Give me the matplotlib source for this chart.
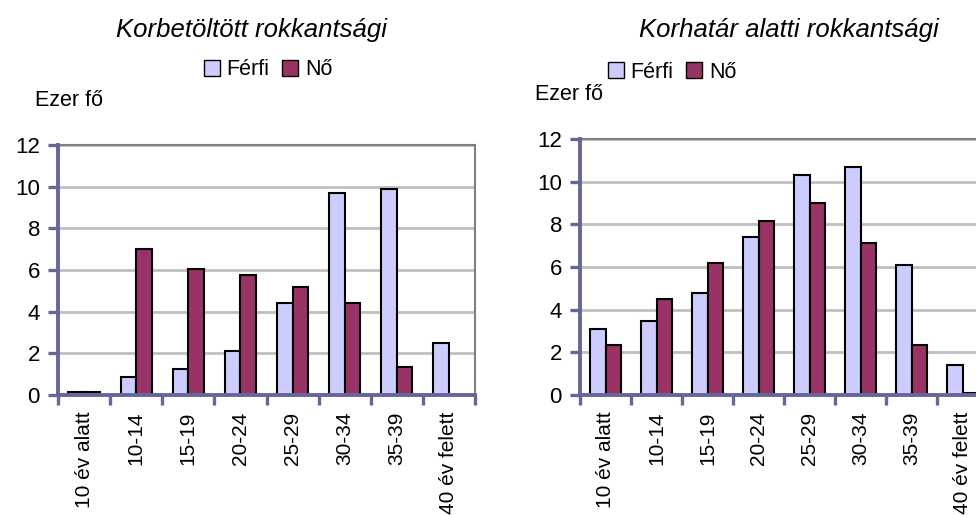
import matplotlib
matplotlib.use("Agg")
import matplotlib.pyplot as plt
import numpy as np
from matplotlib.patches import Patch

plt.rcParams['font.family'] = ['Liberation Sans', 'DejaVu Sans']

categories = ["10 év alatt", "10-14", "15-19", "20-24", "25-29", "30-34", "35-39", "40 év felett"]
series_names = ["Férfi", "Nő"]

left_title = "Korbetöltött rokkantsági"
left_ferfi = [0.15, 0.85, 1.25, 2.1, 4.4, 9.7, 9.87, 2.5]
left_no = [0.15, 7.0, 6.05, 5.76, 5.17, 4.4, 1.34, 0.0]

right_title = "Korhatár alatti rokkantsági"
right_ferfi = [3.08, 3.47, 4.78, 7.4, 10.3, 10.67, 6.09, 1.39]
right_no = [2.33, 4.48, 6.17, 8.16, 8.98, 7.11, 2.33, 0.08]

yticks = [0, 2, 4, 6, 8, 10, 12]
ylabel = "Ezer fő"

C_F = "#CCCCFF"
C_N = "#993366"
AXC = "#666699"

W, H = 976, 515
fig = plt.figure(figsize=(W / 100, H / 100), dpi=100)


def px_axes(x0, x1, ytop, ybot):
    return fig.add_axes([x0 / W, 1 - ybot / H, (x1 - x0) / W, (ybot - ytop) / H])


def draw(ax, f, n):
    x = np.arange(len(categories))
    bw = 0.3
    ax.bar(x - bw / 2, f, bw, color=C_F, edgecolor="black", linewidth=1.5, zorder=3)
    ax.bar(x + bw / 2, n, bw, color=C_N, edgecolor="black", linewidth=1.5, zorder=3)
    ax.set_xlim(-0.5, len(categories) - 0.5)
    ax.set_ylim(0, 12)
    ax.set_yticks(yticks)
    ax.set_yticklabels([str(v) for v in yticks], fontsize=16)
    ax.yaxis.grid(True, color="#C0C0C0", linewidth=2, zorder=0)
    ax.set_axisbelow(True)
    ax.set_xticks(np.arange(len(categories) + 1) - 0.5, minor=False)
    ax.set_xticklabels([])
    ax.set_xticks(x, minor=True)
    ax.set_xticklabels(categories, minor=True, rotation=90, fontsize=15, va="top", ha="center")
    ax.tick_params(axis="x", which="major", direction="out", length=7, width=2.4, color=AXC)
    ax.tick_params(axis="x", which="minor", length=0, pad=12)
    ax.tick_params(axis="y", direction="out", length=7, width=2.4, color=AXC, pad=6)
    for s in ("left", "bottom"):
        ax.spines[s].set_color(AXC)
        ax.spines[s].set_linewidth(2.8)
        ax.spines[s].set_zorder(4)
    for s in ("top", "right"):
        ax.spines[s].set_color("#808080")
        ax.spines[s].set_linewidth(1.5)


axL = px_axes(58, 475, 145, 395)
draw(axL, left_ferfi, left_no)
axR = px_axes(580, 988, 139, 395)
draw(axR, right_ferfi, right_no)

fig.text(252 / W, 1 - 30 / H, left_title, fontsize=18.5, style="italic", ha="center", va="center")
fig.text(789 / W, 1 - 30 / H, right_title, fontsize=18.5, style="italic", ha="center", va="center")
fig.text(35 / W, 1 - 101 / H, ylabel, fontsize=15.5, ha="left", va="center")
fig.text(535 / W, 1 - 94 / H, ylabel, fontsize=15.5, ha="left", va="center")

handles = [Patch(facecolor=C_F, edgecolor="black", linewidth=1.0),
           Patch(facecolor=C_N, edgecolor="black", linewidth=1.0)]
for cx, cy in ((268, 70), (672, 72)):
    fig.legend(handles, series_names, loc="center", bbox_to_anchor=(cx / W, 1 - cy / H),
               ncol=2, frameon=False, fontsize=15.5, handlelength=0.75, handleheight=0.75,
               handletextpad=0.3, columnspacing=0.6, borderpad=0, borderaxespad=0)

fig.savefig("out.png", dpi=100)
